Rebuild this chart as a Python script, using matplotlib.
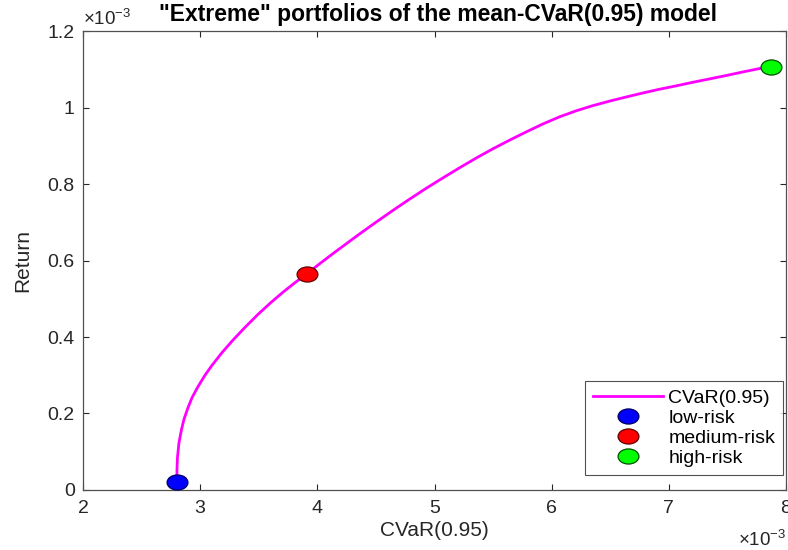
import matplotlib
matplotlib.use("Agg")
import matplotlib.pyplot as plt
from matplotlib.path import Path
from matplotlib.transforms import Affine2D

plt.rcParams['font.family'] = ['Liberation Sans', 'DejaVu Sans']
plt.rcParams['mathtext.fontset'] = 'custom'
plt.rcParams['mathtext.rm'] = 'Liberation Sans'

# efficient frontier, values in units of 1e-3
cvar = [2.802, 2.802, 2.806, 2.819, 2.840, 2.862, 2.896, 2.930, 2.981, 3.041,
        3.101, 3.186, 3.280, 3.382, 3.493, 3.596, 3.706, 3.809, 3.909, 4.022,
        4.133, 4.261, 4.363, 4.500, 4.645, 4.790, 4.935, 5.072, 5.217, 5.362,
        5.498, 5.643, 5.788, 5.925, 6.070, 6.215, 6.352, 6.497, 6.642, 6.778,
        6.923, 7.068, 7.205, 7.350, 7.495, 7.631, 7.776, 7.868]
ret = [0.022, 0.052, 0.084, 0.123, 0.157, 0.185, 0.215, 0.241, 0.270, 0.300,
       0.326, 0.359, 0.392, 0.425, 0.459, 0.488, 0.517, 0.542, 0.565, 0.592,
       0.618, 0.647, 0.670, 0.700, 0.731, 0.761, 0.790, 0.816, 0.843, 0.869,
       0.892, 0.915, 0.937, 0.957, 0.976, 0.992, 1.005, 1.017, 1.028, 1.038,
       1.048, 1.057, 1.066, 1.075, 1.084, 1.093, 1.102, 1.107]

# extreme portfolios
pt_names = ['low-risk', 'medium-risk', 'high-risk']
pt_cvar = [2.802, 3.909, 7.868]
pt_ret = [0.022, 0.565, 1.107]
pt_colors = ['#0000ff', '#ff0000', '#00ff00']
pt_edges = ['#000060', '#600000', '#005000']

x_ticks = [2, 3, 4, 5, 6, 7, 8]
y_ticks = [0, 0.2, 0.4, 0.6, 0.8, 1.0, 1.2]
y_ticklabels = ['0', '0.2', '0.4', '0.6', '0.8', '1', '1.2']

# the source picture is stretched sideways, so the dots are ellipses
ellipse = Affine2D().scale(1.38, 1.0).transform_path(Path.unit_circle())

fig = plt.figure(figsize=(7.88, 5.5), dpi=100)
ax = fig.add_axes([0.1053, 0.1091, 0.8922, 0.8345])

ax.plot(cvar, ret, color='#ff00ff', lw=2.0, label='CVaR(0.95)', zorder=2,
        solid_joinstyle='round')
for n, cx, ry, c, e in zip(pt_names, pt_cvar, pt_ret, pt_colors, pt_edges):
    ax.plot(cx, ry, marker=ellipse, ls='none', ms=15, mfc=c, mec=e, mew=0.9,
            label=n, zorder=3)

ax.set_xlim(2, 8)
ax.set_ylim(0, 1.2)
ax.set_xticks(x_ticks)
ax.set_xticklabels([str(t) for t in x_ticks])
ax.set_yticks(y_ticks)
ax.set_yticklabels(y_ticklabels)
ax.tick_params(direction='in', length=4.5, width=0.8, top=True, right=True,
               labelsize=14, colors='#262626')
ax.tick_params(axis='x', pad=7)
ax.tick_params(axis='y', pad=6)
for s in ax.spines.values():
    s.set_color('#505050')
    s.set_linewidth(0.9)

ax.set_xlabel('CVaR(0.95)', fontsize=15, color='#262626', labelpad=3)
ax.set_ylabel('Return', fontsize=15, color='#262626', labelpad=11)
ax.set_title('"Extreme" portfolios of the mean-CVaR(0.95) model',
             fontsize=16.5, fontweight='bold', pad=7, x=0.505)

# exponent markers, MATLAB style
ax.text(0.0, 1.028, r'$\times10^{-3}$', transform=ax.transAxes, fontsize=13.5,
        color='#262626', ha='left', va='center')
ax.text(1.0, -0.109, r'$\times10^{-3}$', transform=ax.transAxes, fontsize=13.5,
        color='#262626', ha='right', va='center')

leg = ax.legend(loc='lower right', bbox_to_anchor=(0.9957, 0.0327), fontsize=14,
                frameon=True, fancybox=False, edgecolor='#262626',
                handlelength=3.6, handletextpad=0.3, labelspacing=0.13,
                borderpad=0.4, borderaxespad=0.0, markerscale=1.0)
leg.get_frame().set_linewidth(0.8)

fig.savefig('out.png', dpi=100)
